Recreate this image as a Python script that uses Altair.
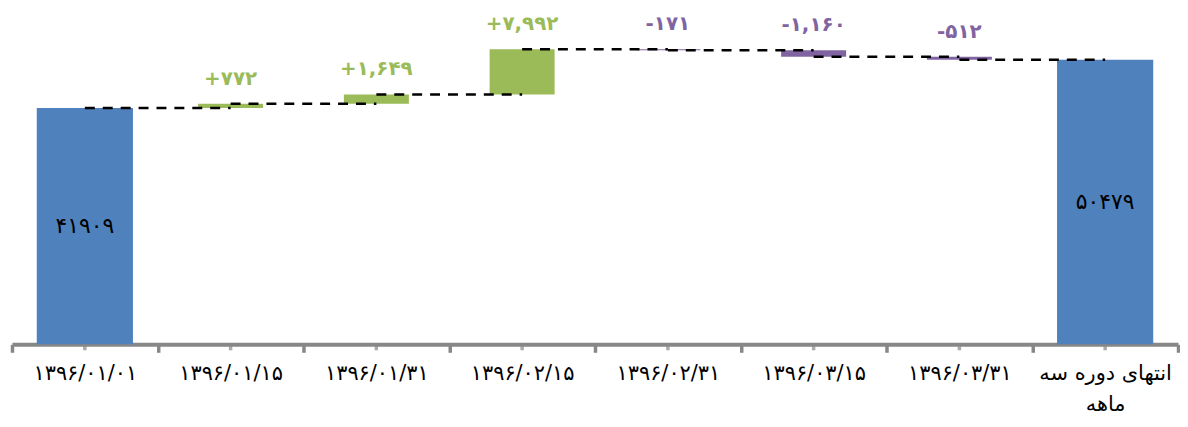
import altair as alt
import pandas as pd

categories = ["۱۳۹۶/۰۱/۰۱", "۱۳۹۶/۰۱/۱۵", "۱۳۹۶/۰۱/۳۱", "۱۳۹۶/۰۲/۱۵",
              "۱۳۹۶/۰۲/۳۱", "۱۳۹۶/۰۳/۱۵", "۱۳۹۶/۰۳/۳۱", "انتهای دوره سه ماهه"]
values = [41909, 772, 1649, 7992, -171, -1160, -512, 50479]
kinds = ["total", "up", "up", "up", "down", "down", "down", "total"]
value_labels = ["۴۱۹۰۹", "+۷۷۲", "+۱,۶۴۹", "+۷,۹۹۲", "-۱۷۱", "-۱,۱۶۰", "-۵۱۲", "۵۰۴۷۹"]

# derive bar extents from the values
rows = []
running = 0
for c, v, k, lab in zip(categories, values, kinds, value_labels):
    if k == "total":
        start, end = 0, v
        running = v
    else:
        start, end = running, running + v
        running = end
    rows.append(dict(cat=c, start=start, end=end, kind=k, label=lab,
                     top=max(start, end), mid=(start + end) / 2))
df = pd.DataFrame(rows)

seg = []
for i in range(len(categories) - 1):
    lvl = df.loc[i, "end"]
    seg.append(dict(cat=categories[i], level=lvl, sid=i))
    seg.append(dict(cat=categories[i + 1], level=lvl, sid=i))
seg_df = pd.DataFrame(seg)

FONT = "DejaVu Sans"
GRAY = "#878787"
LAST = "انتهای دوره سه ماهه"
xscale = alt.Scale(domain=categories, paddingInner=0, paddingOuter=0)
yscale = alt.Scale(domain=[0, 59470], nice=False, zero=True)
color_scale = alt.Scale(domain=["total", "up", "down"],
                        range=["#4F81BD", "#9BBB59", "#8064A2"])

main_axis = alt.Axis(title=None, labelAngle=0, tickBand="extent", labelFont=FONT,
                     labelFontSize=21,
                     labelColor="#000000", labelPadding=10,
                     labelLineHeight=32, labelBaseline="top",
                     domainColor=GRAY, domainWidth=4, tickColor=GRAY,
                     tickWidth=3.5, tickSize=8, orient="bottom",
                     labelExpr=f"datum.value == '{LAST}' ? ['انتهای دوره سه', 'ماهه'] : datum.value")

X_noaxis = alt.X("cat:N", scale=xscale, sort=categories, axis=None)

base = alt.Chart(df)

totals = base.transform_filter("datum.kind == 'total'").mark_bar(
    width=alt.RelativeBandSize(0.66)).encode(
    x=alt.X("cat:N", scale=xscale, axis=main_axis, sort=categories),
    y=alt.Y("start:Q", scale=yscale, axis=None),
    y2="end:Q",
    color=alt.Color("kind:N", scale=color_scale, legend=None),
)

deltas = base.transform_filter("datum.kind != 'total'").mark_bar(
    width=alt.RelativeBandSize(0.446)).encode(
    x=X_noaxis,
    y=alt.Y("start:Q", scale=yscale, axis=None),
    y2="end:Q",
    color=alt.Color("kind:N", scale=color_scale, legend=None),
)

connectors = alt.Chart(seg_df).mark_line(
    color="black", strokeDash=[10, 8], strokeWidth=2.5).encode(
    x=X_noaxis,
    y=alt.Y("level:Q", scale=yscale, axis=None),
    detail="sid:N",
)

delta_text = base.transform_filter("datum.kind != 'total'").mark_text(
    font=FONT, fontSize=20, fontWeight="bold", baseline="middle", dy=-25).encode(
    x=X_noaxis,
    y=alt.Y("top:Q", scale=yscale, axis=None),
    text="label:N",
    color=alt.Color("kind:N", scale=color_scale, legend=None),
)

total_text = base.transform_filter("datum.kind == 'total'").mark_text(
    font=FONT, fontSize=22, baseline="middle", color="black").encode(
    x=X_noaxis,
    y=alt.Y("mid:Q", scale=yscale, axis=None),
    text="label:N",
)

# minor axis ticks at the band centres
center_ticks = base.mark_tick(orient="vertical", size=6, thickness=3.5,
                              color=GRAY, yOffset=3).encode(
    x=X_noaxis,
    y=alt.Y("zero:Q", scale=yscale, axis=None),
).transform_calculate(zero="0")

chart = alt.layer(totals, deltas, connectors, delta_text, total_text, center_ticks).resolve_axis(
    x="independent", y="independent").properties(
    width=1172, height=337,
    padding={"left": 2, "top": 0, "right": 0, "bottom": 0},
).configure_view(stroke=None)

chart.save("out.html", embed_options={"renderer": "svg", "actions": False})
